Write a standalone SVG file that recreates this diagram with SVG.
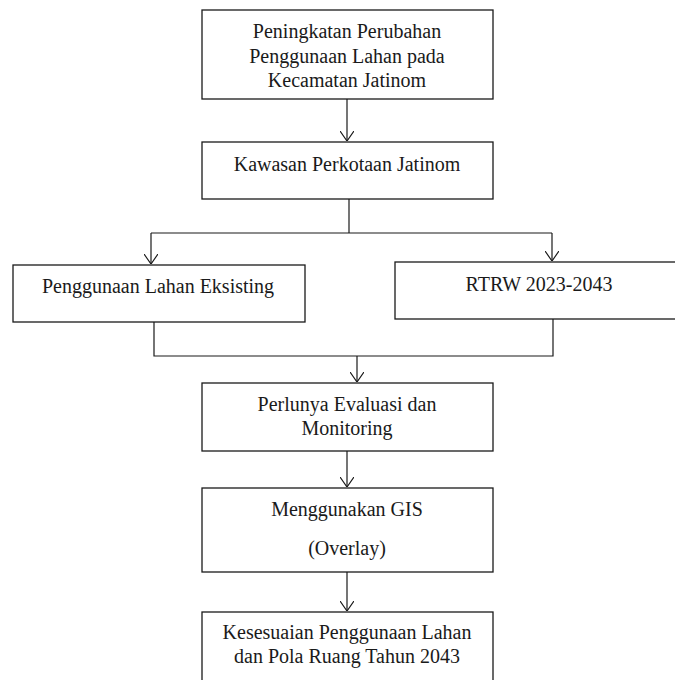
<svg xmlns="http://www.w3.org/2000/svg" width="675" height="680" viewBox="0 0 675 680">
<style>
.box{fill:#fff;stroke:#1a1a1a;stroke-width:1.3}
.t{font-family:"Liberation Serif","Times New Roman",serif;font-size:20px;fill:#1a1a1a;text-anchor:middle}
.c{fill:none;stroke:#1a1a1a;stroke-width:1.2}
</style>
<defs>
<marker id="arr" viewBox="0 0 10 14" refX="10" refY="7" markerWidth="10" markerHeight="14" markerUnits="userSpaceOnUse" orient="auto">
<path d="M0,0 L10,7 L0,14" fill="none" stroke="#1a1a1a" stroke-width="1.2"/>
</marker>
</defs>
<rect width="675" height="680" fill="#fff"/>
<g id="connectors">
<path class="c" d="M347,99 V141" marker-end="url(#arr)"/>
<path class="c" d="M349,199 V233"/>
<path class="c" d="M151,233 H552"/>
<path class="c" d="M151,233 V264" marker-end="url(#arr)"/>
<path class="c" d="M552,233 V261" marker-end="url(#arr)"/>
<path class="c" d="M154,322 V356 H553 V319"/>
<path class="c" d="M357,356 V382" marker-end="url(#arr)"/>
<path class="c" d="M347,451 V487" marker-end="url(#arr)"/>
<path class="c" d="M347,572 V611" marker-end="url(#arr)"/>
</g>
<g id="node1">
<rect class="box" x="202" y="10" width="291" height="89"/>
<text class="t" x="347" y="38">Peningkatan Perubahan</text>
<text class="t" x="347" y="62.5">Penggunaan Lahan pada</text>
<text class="t" x="347" y="87">Kecamatan Jatinom</text>
</g>
<g id="node2">
<rect class="box" x="202" y="142" width="291" height="57"/>
<text class="t" x="347" y="171">Kawasan Perkotaan Jatinom</text>
</g>
<g id="node3">
<rect class="box" x="13" y="265" width="292" height="57"/>
<text class="t" x="158" y="293">Penggunaan Lahan Eksisting</text>
</g>
<g id="node4">
<rect class="box" x="395" y="262" width="290" height="57"/>
<text class="t" x="539" y="291">RTRW 2023-2043</text>
</g>
<g id="node5">
<rect class="box" x="202" y="383" width="291" height="68"/>
<text class="t" x="347" y="411">Perlunya Evaluasi dan</text>
<text class="t" x="347" y="435">Monitoring</text>
</g>
<g id="node6">
<rect class="box" x="202" y="488" width="291" height="84"/>
<text class="t" x="347" y="516">Menggunakan GIS</text>
<text class="t" x="347" y="555">(Overlay)</text>
</g>
<g id="node7">
<rect class="box" x="202" y="612" width="291" height="80"/>
<text class="t" x="347" y="639">Kesesuaian Penggunaan Lahan</text>
<text class="t" x="347" y="663">dan Pola Ruang Tahun 2043</text>
</g>
</svg>
